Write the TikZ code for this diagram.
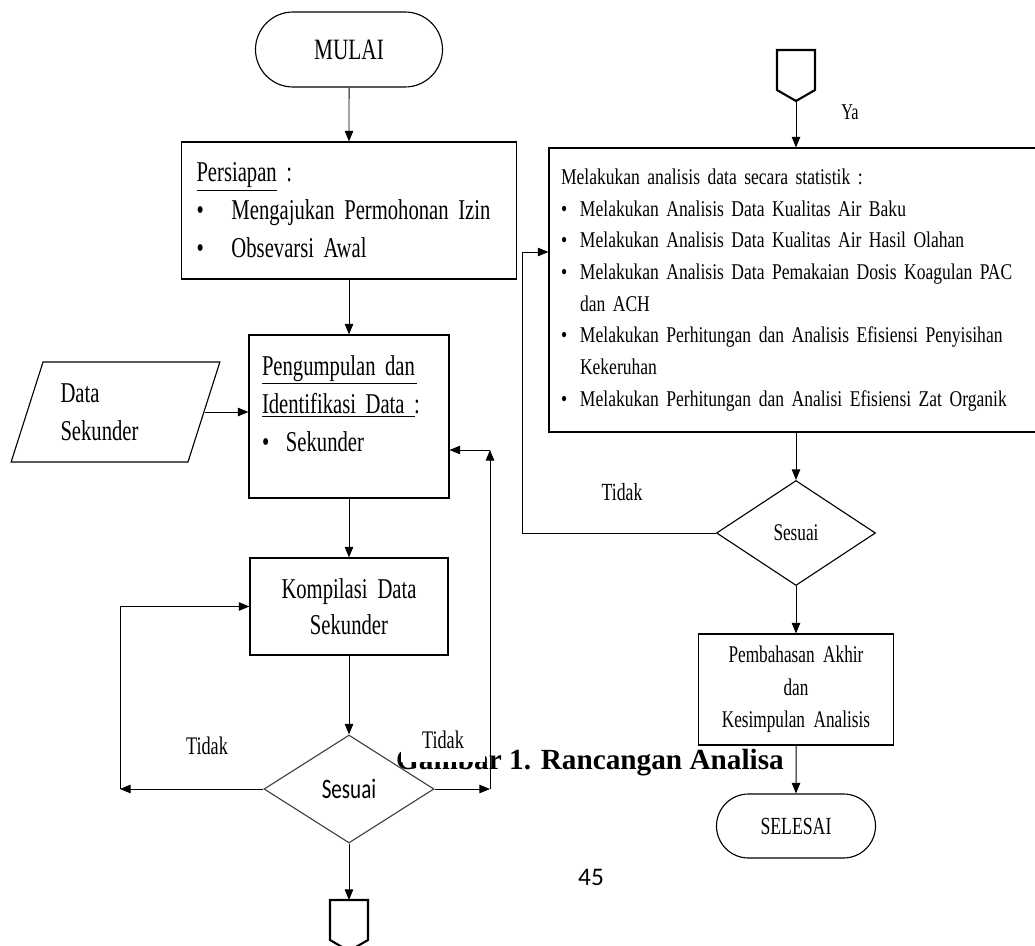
\documentclass[tikz,border=0pt]{standalone}
\usepackage{fontspec}
\setmainfont{Liberation Serif}[FakeStretch=0.78]
\newfontfamily\condfont{Liberation Serif}[FakeStretch=0.72]
\newfontfamily\capfont{Liberation Serif}
\newfontfamily\calfont{Carlito}
\newfontfamily\calnarrow{Carlito}[FakeStretch=0.75]
\usetikzlibrary{arrows.meta,positioning,shapes.geometric,shapes.misc}

\newlength\pxu
\setlength\pxu{0.025cm}
\newcommand{\bulitem}[1]{\makebox[#1][l]{\textbullet}}
\newcommand{\spread}[2]{\makebox[#1\pxu][s]{#2}}

\tikzset{
  arrowline/.style={draw, line width=0.7pt, -{Triangle[length=7.5pt,width=6pt]}},
  plainline/.style={draw, line width=0.7pt},
  boxnode/.style={draw, line width=0.8pt, inner sep=0pt},
  terminal/.style={draw, rounded rectangle, line width=0.8pt, inner sep=0pt},
  decision/.style={draw, diamond, line width=0.8pt, inner sep=0pt},
  offpage/.style={draw, line width=1.5pt, line join=miter},
  lbl/.style={font=\condfont\fontsize{18}{20}\selectfont},
  leftfont/.style={font=\condfont\fontsize{20.4}{27}\selectfont},
  rightfont/.style={font=\fontsize{16}{22.5}\selectfont},
}

\begin{document}
\begin{tikzpicture}[x=0.025cm, y=-0.025cm]
	\useasboundingbox (0,0) rectangle (1035,946);

	% caption and page number
	\node[font=\capfont\bfseries\fontsize{20.8}{24}\selectfont] (caption) at (590,763) {Gambar 1. Rancangan Analisa};
	\node[font=\calfont\fontsize{18}{20}\selectfont] (halaman) at (591,877) {45};
	\node[lbl, fill=white, minimum width=84\pxu, minimum height=44\pxu, inner sep=0pt] (tidakB) at (443,740) {Tidak};

	% left column
	\node[terminal, minimum width=187\pxu, minimum height=75\pxu, font=\condfont\fontsize{21}{24}\selectfont] (mulai) at (349,49.5) {MULAI};
	\node[boxnode, leftfont, minimum width=335\pxu, minimum height=137\pxu, text width=305\pxu, align=left] (persiapan) at (349,210.5)
		{\underline{Persiapan} :\\
		\bulitem{35\pxu}\spread{258}{Mengajukan Permohonan Izin}\\
		\bulitem{35\pxu}Obsevarsi Awal};
	\node[boxnode, leftfont, minimum width=200\pxu, minimum height=163\pxu, text width=174\pxu, align=left] (pengumpulan) at (349,416.5)
		{\underline{\spread{155}{Pengumpulan dan}}\\
		\underline{\spread{153}{Identifikasi Data :}}\\
		\bulitem{24\pxu}Sekunder\\[-12\pxu]
		\mbox{}};
	\node[draw, trapezium, trapezium left angle=67, trapezium right angle=113, trapezium stretches=true,
		line width=0.8pt, minimum width=209\pxu, minimum height=100\pxu, inner sep=0pt,
		leftfont, text width=110\pxu, align=left] (data) at (115.5,412) {Data\\Sekunder};
	\node[boxnode, leftfont, minimum width=198\pxu, minimum height=97\pxu, align=center] (kompilasi) at (349,606.5)
		{\spread{135}{Kompilasi Data}\\[-2\pxu]Sekunder};
	\node[decision, draw=black!75, minimum width=170\pxu, minimum height=108\pxu, font=\calnarrow\fontsize{20}{22}\selectfont] (sesuaiA) at (349,789) {Sesuai};
	\node[lbl] (tidakA) at (207,746) {Tidak};
	\coordinate (kiriA) at (120,789);
	\coordinate (kananA) at (490,789);
	\coordinate (atasA) at (490,450);
	\coordinate (konA) at (349,900);
	\draw[offpage] (330,900) -- (368,900) -- (368,940) -- (349,951) -- (330,940) -- cycle;

	% right column
	\coordinate (konB) at (796,101);
	\draw[offpage] (777,50) -- (815,50) -- (815,90) -- (796,101) -- (777,90) -- cycle;
	\node[font=\condfont\fontsize{16}{18}\selectfont] (ya) at (850,112) {Ya};
	\node[boxnode, rightfont, minimum width=651\pxu, minimum height=284\pxu, text width=627\pxu, align=left] (analisis) at (874.5,290)
		{\spread{301}{Melakukan analisis data secara statistik :}\\
		\bulitem{19\pxu}\spread{325}{Melakukan Analisis Data Kualitas Air Baku}\\
		\bulitem{19\pxu}\spread{382}{Melakukan Analisis Data Kualitas Air Hasil Olahan}\\
		\bulitem{19\pxu}\spread{450}{Melakukan Analisis Data Pemakaian Dosis Koagulan PAC}\\
		\hspace*{19\pxu}dan ACH\\
		\bulitem{19\pxu}\spread{450}{Melakukan Perhitungan dan Analisis Efisiensi Penyisihan}\\
		\hspace*{19\pxu}Kekeruhan\\
		\bulitem{19\pxu}\spread{427}{Melakukan Perhitungan dan Analisi Efisiensi Zat Organik}};
	\node[decision, minimum width=159\pxu, minimum height=105\pxu, font=\condfont\fontsize{17}{20}\selectfont] (sesuaiB) at (796,533) {Sesuai};
	\node[font=\condfont\fontsize{17.5}{20}\selectfont] (tidakC) at (622,492) {Tidak};
	\coordinate (kiriB) at (522,533);
	\coordinate (atasB) at (522,252);
	\node[boxnode, minimum width=195\pxu, minimum height=111\pxu, align=center, font=\condfont\fontsize{17}{23.1}\selectfont] (pembahasan) at (796,689.5)
		{Pembahasan\ \ Akhir\\dan\\Kesimpulan\ \ Analisis};
	\node[terminal, minimum width=159\pxu, minimum height=64\pxu, font=\condfont\fontsize{17.5}{20}\selectfont] (selesai) at (796,826) {SELESAI};

	% connectors
	\draw [arrowline] (mulai) to (persiapan);
	\draw [arrowline] (persiapan) to (pengumpulan);
	\draw [arrowline] (data.east) to (data.east -| pengumpulan.west);
	\draw [arrowline] (pengumpulan) to (kompilasi);
	\draw [arrowline] (kompilasi) to (sesuaiA);
	\draw [arrowline] (sesuaiA.west) to (kiriA);
	\draw [arrowline] (kiriA) |- (kompilasi.west);
	\draw [arrowline] (sesuaiA.east) to (kananA);
	\draw [arrowline] (kananA) to (atasA);
	\draw [arrowline] (atasA) to (atasA -| pengumpulan.east);
	\draw [arrowline] (sesuaiA) to (konA);

	\draw [arrowline] (konB) to (konB |- analisis.north);
	\draw [arrowline] (konB |- analisis.south) to (sesuaiB);
	\draw [plainline] (sesuaiB.west) to (kiriB) to (atasB);
	\draw [arrowline] (atasB) to (atasB -| analisis.west);
	\draw [arrowline] (sesuaiB) to (pembahasan);
	\draw [arrowline] (pembahasan) to (selesai);
\end{tikzpicture}
\end{document}
